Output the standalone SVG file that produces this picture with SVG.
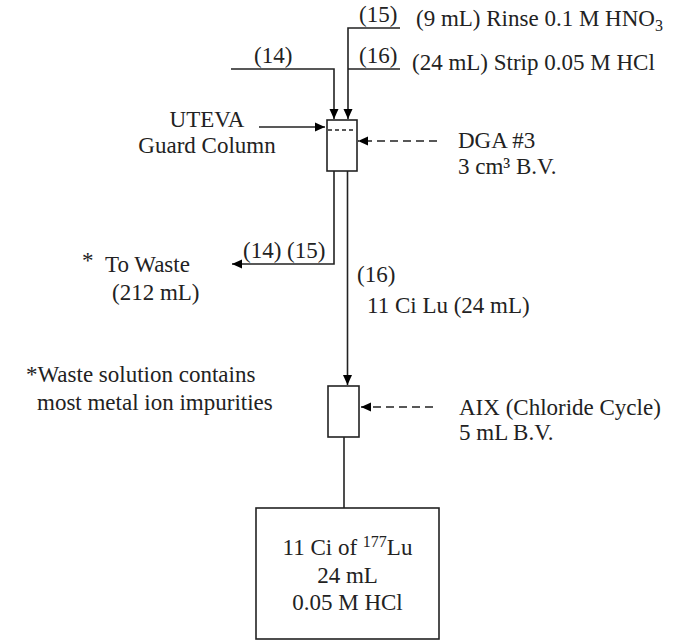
<svg xmlns="http://www.w3.org/2000/svg" width="695" height="641" viewBox="0 0 695 641">
<defs>
<marker id="ah" viewBox="0 0 10 10" refX="10" refY="5" markerWidth="10" markerHeight="10" markerUnits="userSpaceOnUse" orient="auto">
<path d="M0,0.5 L10,5 L0,9.5 Z" fill="#000"/>
</marker>
<style>
.t{font-family:'Liberation Serif','DejaVu Serif',serif;font-size:23px;fill:#222}
.ln{fill:none;stroke:#222;stroke-width:1.6}
.ds{fill:none;stroke:#222;stroke-width:1.6;stroke-dasharray:8 5}
.bx{fill:#fff;stroke:#222;stroke-width:1.6}
</style>
</defs>
<rect width="695" height="641" fill="#fff"/>
<g id="connectors">
<polyline class="ln" points="231,69 334,69 334,119" marker-end="url(#ah)"/>
<polyline class="ln" points="400,28 348,28 348,119" marker-end="url(#ah)"/>
<line class="ln" x1="400" y1="69" x2="348" y2="69"/>
<line class="ln" x1="259" y1="127" x2="325" y2="127" marker-end="url(#ah)"/>
<line class="ds" x1="437" y1="141" x2="358" y2="141" marker-end="url(#ah)"/>
<polyline class="ln" points="334,171 334,264 232,264" marker-end="url(#ah)"/>
<line class="ln" x1="347.5" y1="171" x2="347.5" y2="385" marker-end="url(#ah)"/>
<line class="ds" x1="433" y1="407" x2="361" y2="407" marker-end="url(#ah)"/>
<line class="ln" x1="344" y1="437" x2="344" y2="508"/>
</g>
<g id="labels">
<text class="t" x="359" y="22">(15)</text>
<text class="t" x="416" y="26">(9 mL) Rinse 0.1 M HNO<tspan font-size="16" dy="5">3</tspan></text>
<text class="t" x="254" y="63">(14)</text>
<text class="t" x="359" y="63">(16)</text>
<text class="t" x="412" y="70">(24 mL) Strip 0.05 M HCl</text>
<text class="t" x="243" y="258">(14) (15)</text>
<text class="t" x="357" y="282">(16)</text>
<text class="t" x="367" y="313">11 Ci Lu (24 mL)</text>
</g>
<g id="uteva">
<rect class="bx" x="327" y="120" width="30" height="51"/>
<line class="ln" x1="328" y1="130" x2="356" y2="130" stroke-dasharray="4 3"/>
<text class="t" x="207" y="127" text-anchor="middle">UTEVA</text>
<text class="t" x="207" y="153" text-anchor="middle">Guard Column</text>
</g>
<g id="dga">
<text class="t" x="458" y="148">DGA #3</text>
<text class="t" x="458" y="174">3 cm³ B.V.</text>
</g>
<g id="waste">
<text class="t" x="82" y="268" font-size="17">*</text>
<text class="t" x="105" y="272">To Waste</text>
<text class="t" x="112" y="300">(212 mL)</text>
</g>
<g id="note">
<text class="t" x="26" y="382">*Waste solution contains</text>
<text class="t" x="37" y="410">most metal ion impurities</text>
</g>
<g id="aix">
<rect class="bx" x="328" y="386" width="31" height="51"/>
<text class="t" x="459" y="415">AIX (Chloride Cycle)</text>
<text class="t" x="459" y="440">5 mL B.V.</text>
</g>
<g id="product">
<rect class="bx" x="256" y="508" width="183" height="131"/>
<text class="t" x="347.5" y="555" text-anchor="middle">11 Ci of <tspan font-size="16" dy="-8">177</tspan><tspan dy="8">Lu</tspan></text>
<text class="t" x="347.5" y="583" text-anchor="middle">24 mL</text>
<text class="t" x="347.5" y="610" text-anchor="middle">0.05 M HCl</text>
</g>
</svg>
